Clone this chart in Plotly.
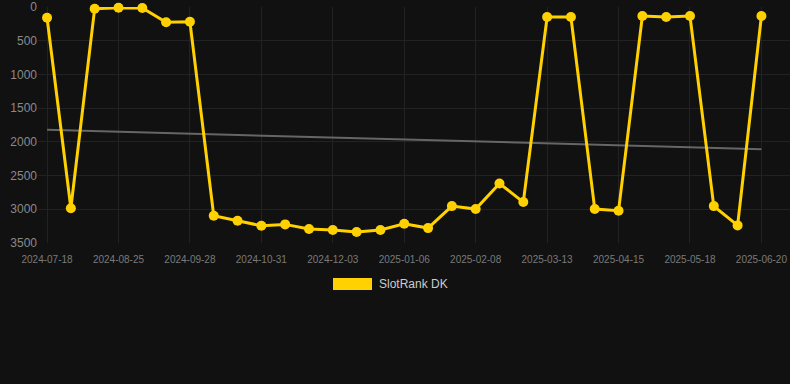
import plotly.graph_objects as go

dates = ["2024-07-18", "2024-07-31", "2024-08-12", "2024-08-25", "2024-09-05", "2024-09-16",
         "2024-09-28", "2024-10-09", "2024-10-20", "2024-10-31", "2024-11-11", "2024-11-22",
         "2024-12-03", "2024-12-14", "2024-12-25", "2025-01-06", "2025-01-17", "2025-01-28",
         "2025-02-08", "2025-02-19", "2025-03-02", "2025-03-13", "2025-03-24", "2025-04-04",
         "2025-04-15", "2025-04-26", "2025-05-07", "2025-05-18", "2025-05-29", "2025-06-09",
         "2025-06-20"]
rank = [160, 2985, 25, 10, 15, 226, 220, 3096, 3170, 3244, 3224, 3293, 3308, 3338, 3308,
        3215, 3279, 2953, 2997, 2617, 2893, 148, 148, 2997, 3022, 133, 148, 133, 2953, 3239, 133]
trend_dates = [dates[0], dates[-1]]
trend_vals = [1821, 2108]
tick_labels = dates[::3]
series_name = "SlotRank DK"

W, H = 790, 384
ml, mr, mt, mb = 38, 0, 7, 141
pw, ph = W - ml - mr, H - mt - mb

def px_x(p):
    return (p - ml) / pw

def px_y(p):
    return (H - mb - p) / ph

fig = go.Figure()
fig.add_trace(go.Scatter(x=trend_dates, y=trend_vals, mode="lines",
                         line=dict(color="#666666", width=2), showlegend=False, hoverinfo="skip"))
fig.add_trace(go.Scatter(x=dates, y=rank, mode="lines+markers", name=series_name,
                         line=dict(color="#FFD100", width=3),
                         marker=dict(color="#FFD100", size=10),
                         cliponaxis=False, showlegend=False))

fig.update_layout(
    width=W, height=H,
    margin=dict(l=ml, r=mr, t=mt, b=mb),
    paper_bgcolor="#111111", plot_bgcolor="#111111",
    font=dict(family="Liberation Sans, Arial, sans-serif", color="#888888"),
    xaxis=dict(type="category", categoryorder="array", categoryarray=dates,
               range=[-0.38, len(dates) - 1 + 1.2],
               tickmode="array", tickvals=tick_labels, ticktext=tick_labels,
               showgrid=True, gridcolor="#222222", gridwidth=1,
               zeroline=False, showline=False, ticks="", ticklabelstandoff=9,
               tickfont=dict(size=10, color="#7a7a7a")),
    yaxis=dict(range=[3500, 0], tickmode="linear", tick0=0, dtick=500,
               showgrid=True, gridcolor="#222222", gridwidth=1,
               zeroline=False, showline=False, ticks="",
               tickfont=dict(size=12, color="#8a8a8a")),
    showlegend=False,
)

fig.add_shape(type="rect", xref="paper", yref="paper",
              x0=px_x(333), x1=px_x(372), y0=px_y(290), y1=px_y(278),
              fillcolor="#FFD100", line=dict(width=0))
fig.add_annotation(xref="paper", yref="paper", x=px_x(377), y=px_y(284),
                   xanchor="left", yanchor="middle", text=series_name, showarrow=False,
                   font=dict(size=12, color="#cccccc"))

fig.write_html("out.html")
